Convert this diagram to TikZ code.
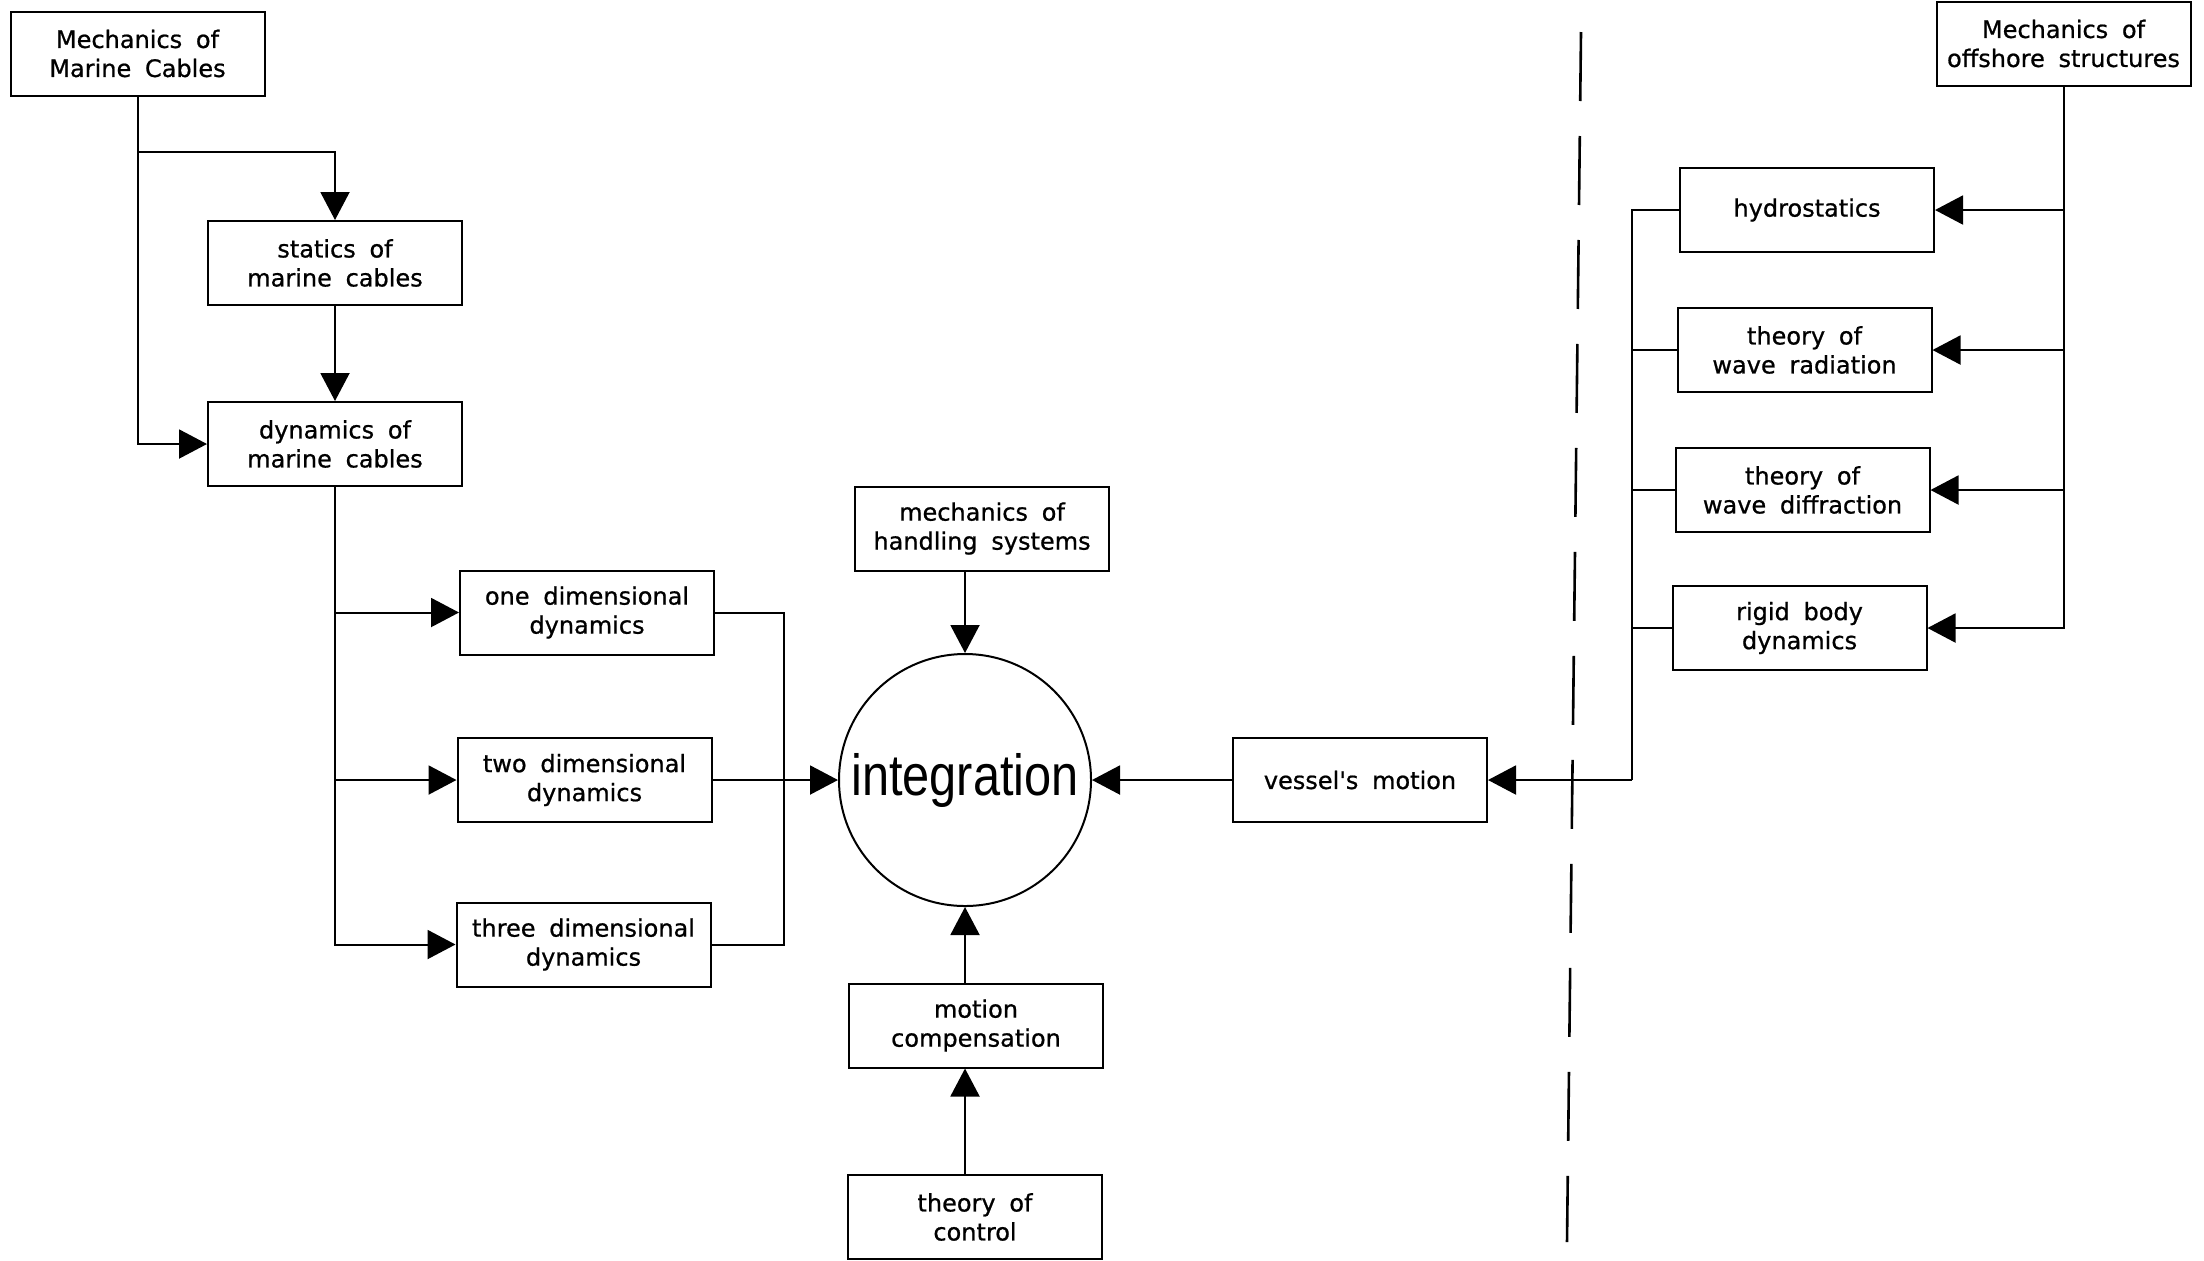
\documentclass[tikz,border=0pt]{standalone}
\usepackage{fontspec}
\newfontfamily\boxfont{DejaVu Sans}[WordSpace=1.8,FakeBold=0.8]
\newfontfamily\intfont{Liberation Sans}
\usetikzlibrary{arrows.meta}
\begin{document}
\begin{tikzpicture}[x=0.5pt,y=-0.5pt,
  bx/.style={draw, line width=1pt, minimum width=127pt, minimum height=42pt, inner sep=1pt, align=center, font=\boxfont\fontsize{12}{14.5}\selectfont},
  ln/.style={line width=1pt},
  arr/.style={line width=1pt, -{Triangle[length=14pt,width=14.5pt]}}]
\useasboundingbox (0,0) rectangle (2204,1260);

\node[bx] (mmc) at (137.5,53.5) {Mechanics of\\Marine Cables};
\node[bx] (stat) at (335,263) {statics of\\marine cables};
\node[bx] (dyn) at (335,444) {dynamics of\\marine cables};
\node[bx] (one) at (587,612.5) {one dimensional\\dynamics};
\node[bx] (two) at (584.5,780) {two dimensional\\dynamics};
\node[bx] (three) at (583.5,944.5) {three dimensional\\dynamics};
\node[bx] (hand) at (982,528.5) {mechanics of\\handling systems};
\node[circle, draw, line width=1pt, minimum size=126pt, inner sep=0pt] (circ) at (965,780) {\intfont\fontsize{29}{30}\selectfont\scalebox{0.84}[1]{integration}};
\node[bx] (mc) at (976,1025.5) {motion\\compensation};
\node[bx] (toc) at (975,1217) {theory of\\control};
\node[bx] (vm) at (1360,780) {vessel's motion};
\node[bx] (mos) at (2063.5,43.5) {Mechanics of\\offshore structures};
\node[bx] (hyd) at (1807,210) {hydrostatics};
\node[bx] (wr) at (1804.5,350) {theory of\\wave radiation};
\node[bx] (wd) at (1802.5,490) {theory of\\wave diffraction};
\node[bx] (rb) at (1799.5,628) {rigid body\\dynamics};

\coordinate (b1) at (137.5,152);
\draw[arr] (mmc.south) |- (dyn.west);
\draw[arr] (b1) -| (stat.north);
\draw[arr] (stat.south) -- (dyn.north);
\draw[arr] (dyn.south) |- (one.west);
\draw[arr] (dyn.south) |- (two.west);
\draw[arr] (dyn.south) |- (three.west);
\coordinate (rc) at (784,780);
\draw[ln] (one.east) -| (rc) |- (three.east);
\draw[arr] (two.east) -- (circ.west);
\draw[arr] (hand.south -| circ.north) -- (circ.north);
\draw[arr] (mc.north -| circ.south) -- (circ.south);
\draw[arr] (toc.north -| circ.south) -- (mc.south -| circ.south);
\draw[arr] (vm.west) -- (circ.east);

\draw[arr] (mos.south) |- (hyd.east);
\draw[arr] (mos.south) |- (wr.east);
\draw[arr] (mos.south) |- (wd.east);
\draw[arr] (mos.south) |- (rb.east);
\coordinate (bus) at (1632,780);
\draw[ln] (hyd.west) -| (bus);
\draw[ln] (wr.west) -- (wr.west -| bus);
\draw[ln] (wd.west) -- (wd.west -| bus);
\draw[ln] (rb.west) -- (rb.west -| bus);
\draw[arr] (bus) -- (vm.east);

\draw[line width=1.3pt, dash pattern=on 34.5pt off 17.5pt] (1581,32) -- (1567,1242);
\end{tikzpicture}
\end{document}
